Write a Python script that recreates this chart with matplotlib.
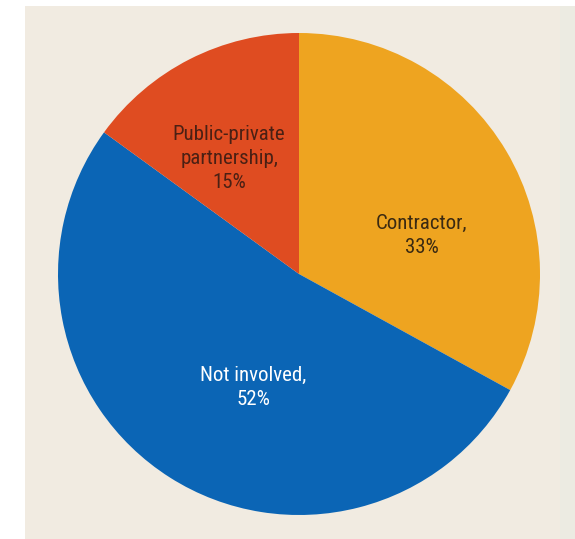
import matplotlib.pyplot as plt
from matplotlib.patches import Rectangle
from matplotlib import font_manager

# survey shares, clockwise from 12 o'clock
categories = ["Contractor", "Not involved", "Public-private\npartnership"]
shares = [33, 52, 15]
colors = ["#EEA420", "#0B65B5", "#DF4C21"]
text_colors = ["#3B2A12", "#FFFFFF", "#4A2014"]

# label anchor points inside the unit pie
label_xy = [(0.51, 0.16), (-0.19, -0.47), (-0.29, 0.48)]

W, H = 575, 539
fig = plt.figure(figsize=(W / 100, H / 100), dpi=100)
fig.patch.set_facecolor("white")

# beige panel behind the pie
bg = fig.add_axes([0, 0, 1, 1])
bg.set_xlim(0, W)
bg.set_ylim(H, 0)
bg.axis("off")
bg.add_patch(Rectangle((25, 6), 535, H - 6, facecolor="#F1EBE1", edgecolor="none"))
bg.add_patch(Rectangle((560, 6), W - 560, H - 6, facecolor="#ECEBE2", edgecolor="none"))

cx, cy, r = 299, 274, 241
ax = fig.add_axes([(cx - r) / W, (H - cy - r) / H, 2 * r / W, 2 * r / H])
ax.pie(shares, colors=colors, startangle=90, counterclock=False, radius=1,
       wedgeprops=dict(linewidth=0))
ax.set_xlim(-1, 1)
ax.set_ylim(-1, 1)
ax.set_aspect("equal")
ax.axis("off")

# narrow face if one is around, else DejaVu condensed
names = {f.name for f in font_manager.fontManager.ttflist}
fam = [n for n in ["Liberation Sans Narrow", "Roboto Condensed", "Open Sans Condensed"]
       if n in names] + ["DejaVu Sans"]

for name, val, (x, y), tc in zip(categories, shares, label_xy, text_colors):
    ax.text(x, y, f"{name},\n{val}%", ha="center", va="center", color=tc,
            fontsize=15, family=fam, fontstretch="condensed", linespacing=1.35)

fig.savefig("out.png", dpi=100, facecolor=fig.get_facecolor())
